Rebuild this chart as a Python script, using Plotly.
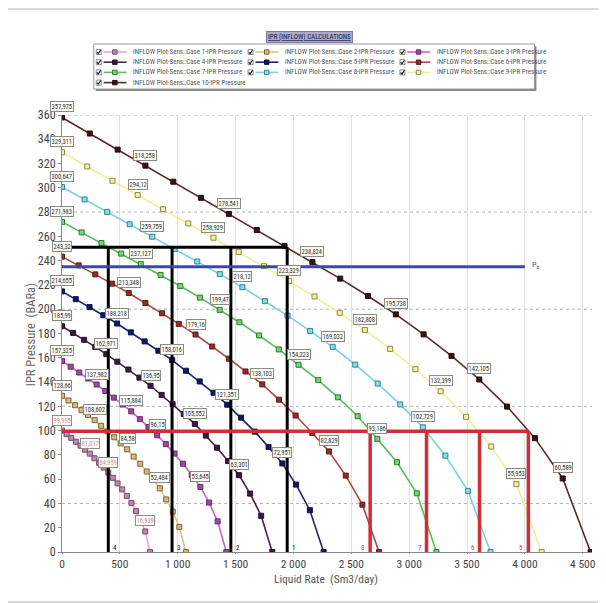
import plotly.graph_objects as go

# ---------------- data ----------------
case_names = [
    "INFLOW Plot-Sens::Case 1-IPR Pressure", "INFLOW Plot-Sens::Case 2-IPR Pressure",
    "INFLOW Plot-Sens::Case 3-IPR Pressure", "INFLOW Plot-Sens::Case 4-IPR Pressure",
    "INFLOW Plot-Sens::Case 5-IPR Pressure", "INFLOW Plot-Sens::Case 6-IPR Pressure",
    "INFLOW Plot-Sens::Case 7-IPR Pressure", "INFLOW Plot-Sens::Case 8-IPR Pressure",
    "INFLOW Plot-Sens::Case 9-IPR Pressure", "INFLOW Plot-Sens::Case 10-IPR Pressure",
]

c1_rate = [0, 40, 80, 120, 160, 200, 240, 280, 320, 360, 400, 440, 480, 520, 560, 600, 640, 680, 720, 760]
c1_pres = [99.995, 97.03, 93.99, 90.85, 87.62, 84.28, 81.02, 77.22, 73.48, 69.56, 65.45, 61.11, 56.50, 51.56, 46.20, 40.30, 33.65, 25.87, 16.94, 0]
c2_rate = [0, 56, 113, 169, 225, 282, 338, 394, 451, 507, 563, 619, 676, 732, 788, 845, 901, 957, 1014, 1070]
c2_pres = [128.66, 124.85, 120.93, 116.89, 112.74, 108.60, 103.98, 99.36, 94.54, 89.51, 84.58, 78.63, 72.70, 66.34, 59.44, 52.48, 43.30, 33.28, 20.63, 0]
c3_rate = [0, 75, 149, 224, 299, 374, 448, 523, 598, 673, 747, 822, 897, 972, 1046, 1121, 1196, 1271, 1345, 1420]
c3_pres = [157.325, 152.66, 147.87, 142.94, 137.98, 132.60, 127.15, 121.50, 115.88, 109.45, 102.98, 96.15, 88.89, 81.12, 72.69, 63.40, 53.65, 40.70, 25.22, 0]
c4_rate = [0, 96, 191, 287, 383, 478, 574, 669, 765, 861, 956, 1052, 1148, 1243, 1339, 1435, 1530, 1626, 1721, 1817]
c4_pres = [185.99, 180.48, 174.82, 168.98, 162.97, 156.76, 150.32, 143.64, 136.95, 129.39, 121.74, 113.67, 105.55, 95.90, 85.93, 74.95, 63.30, 48.11, 29.82, 0]
c5_rate = [0, 119, 238, 357, 476, 595, 714, 833, 952, 1071, 1190, 1309, 1428, 1547, 1666, 1785, 1904, 2023, 2142, 2261]
c5_pres = [214.655, 208.30, 201.76, 195.03, 188.22, 180.92, 173.49, 165.77, 158.02, 149.33, 140.51, 131.19, 121.35, 110.68, 99.17, 86.51, 72.95, 55.53, 34.42, 0]
c6_rate = [0, 144, 288, 433, 577, 721, 865, 1009, 1154, 1298, 1442, 1586, 1731, 1875, 2019, 2163, 2307, 2452, 2596, 2740]
c6_pres = [243.32, 236.11, 228.70, 221.07, 213.35, 205.08, 196.65, 187.91, 179.16, 169.27, 159.27, 148.71, 138.10, 125.46, 112.42, 98.06, 82.83, 62.94, 39.01, 0]
c7_rate = [0, 170, 341, 511, 681, 852, 1022, 1192, 1363, 1533, 1703, 1874, 2044, 2214, 2384, 2555, 2725, 2895, 3066, 3236]
c7_pres = [271.983, 263.27, 254.55, 245.84, 237.13, 228.27, 219.09, 209.56, 199.47, 189.27, 178.38, 166.89, 154.22, 141.61, 127.45, 111.88, 93.19, 73.95, 48.35, 0]
c8_rate = [0, 195, 390, 585, 780, 974, 1169, 1364, 1559, 1754, 1949, 2144, 2339, 2534, 2728, 2923, 3118, 3313, 3508, 3703]
c8_pres = [300.647, 290.43, 280.20, 269.98, 259.76, 249.54, 239.31, 228.89, 218.12, 206.67, 194.74, 182.13, 169.03, 154.36, 138.77, 121.58, 102.73, 79.37, 50.33, 0]
c9_rate = [0, 218, 436, 654, 873, 1091, 1309, 1527, 1745, 1963, 2182, 2400, 2618, 2836, 3054, 3272, 3491, 3709, 3927, 4145]
c9_pres = [329.311, 317.58, 305.85, 294.12, 282.39, 270.66, 258.93, 247.20, 235.48, 223.33, 210.50, 197.01, 182.81, 167.29, 150.60, 132.40, 111.32, 86.89, 55.95, 0]
c10_rate = [0, 240, 481, 721, 962, 1202, 1442, 1683, 1923, 2164, 2404, 2644, 2885, 3125, 3366, 3606, 3846, 4087, 4327, 4568]
c10_pres = [357.975, 344.74, 331.50, 318.26, 305.02, 291.78, 278.54, 265.30, 252.06, 238.82, 225.24, 210.90, 195.74, 179.28, 161.52, 142.11, 119.80, 93.77, 60.59, 0]

case_rates = [c1_rate, c2_rate, c3_rate, c4_rate, c5_rate, c6_rate, c7_rate, c8_rate, c9_rate, c10_rate]
case_pres = [c1_pres, c2_pres, c3_pres, c4_pres, c5_pres, c6_pres, c7_pres, c8_pres, c9_pres, c10_pres]

# value labels: case number, point index, text
label_case = [1, 1, 1, 1,
              2, 2, 2, 2,
              3, 3, 3, 3, 3,
              4, 4, 4, 4, 4,
              5, 5, 5, 5, 5,
              6, 6, 6, 6, 6,
              7, 7, 7, 7, 7,
              8, 8, 8, 8, 8,
              9, 9, 9, 9, 9, 9, 9,
              10, 10, 10, 10, 10, 10, 10]
label_index = [0, 6, 10, 18,
               0, 5, 10, 15,
               0, 4, 8, 11, 16,
               0, 4, 8, 12, 16,
               0, 4, 8, 12, 16,
               0, 4, 8, 12, 16,
               0, 4, 8, 12, 16,
               0, 4, 8, 12, 16,
               0, 3, 6, 9, 12, 15, 18,
               0, 3, 6, 9, 12, 15, 18]
label_text = ["99,995", "81,017", "64,959", "16,939",
              "128,66", "108,602", "84,58", "52,484",
              "157,325", "137,982", "115,884", "96,15", "53,645",
              "185,99", "162,971", "136,95", "105,552", "63,301",
              "214,655", "188,218", "158,016", "121,351", "72,951",
              "243,32", "213,348", "179,16", "138,103", "82,829",
              "271,983", "237,127", "199,47", "154,223", "93,186",
              "300,647", "259,759", "218,12", "169,032", "102,729",
              "329,311", "294,12", "258,929", "223,329", "182,808", "132,399", "55,953",
              "357,975", "318,258", "278,541", "238,824", "195,738", "142,105", "60,589"]

# operating-point construction lines
black_pwf = 251
black_rates = [400, 951, 1459, 1946]
black_ids = ["4", "3", "2", "1"]
red_pwf = 99.5
red_rates = [2663, 3150, 3608, 4030]
red_ids = ["8", "7", "6", "5"]
pb_pressure = 235
pb_rate_end = 4000

x_tick_vals = [0, 500, 1000, 1500, 2000, 2500, 3000, 3500, 4000, 4500]
x_tick_text = ["0", "500", "1 000", "1 500", "2 000", "2 500", "3 000", "3 500", "4 000", "4 500"]
y_tick_vals = [0, 20, 40, 60, 80, 100, 120, 140, 160, 180, 200, 220, 240, 260, 280, 300, 320, 340, 360]
y_dotted_grid = [40, 120, 200, 280, 360]

# ---------------- styles ----------------
line_colors = ["#e6a8cc", "#d9c58a", "#c865c8", "#4a2248", "#1f2276",
               "#b3473f", "#52c052", "#79d3e3", "#f1ef94", "#5c2a2a"]
marker_fill = ["#b98aab", "#d2bd80", "#9b4a9b", "#3a1a3a", "#14185e",
               "#8a2f2a", "#7bd07b", "#8fd8e6", "#f3f1a8", "#3a1414"]
marker_edge = ["#7a4a70", "#7d6330", "#6e2a6e", "#2a0f2a", "#0c0f45",
               "#5e1c18", "#2b7d2b", "#2c8796", "#8f8c3a", "#240a0a"]

FONT = "Liberation Sans Narrow, Roboto Condensed, Roboto, sans-serif"

# figure geometry (page has an 8px body margin)
W, H = 598, 595
ML, MR, MT, MB = 54, 10, 107, 51
PW, PH = W - ML - MR, H - MT - MB


def px(sx):  # screen x (reference pixels) -> paper x
    return (sx - 8 - ML) / PW


def py(sy):  # screen y (reference pixels) -> paper y
    return (H - MB - (sy - 8)) / PH


fig = go.Figure()

for i in range(10):
    fig.add_trace(go.Scatter(
        x=case_rates[i], y=case_pres[i], mode="lines+markers", name=case_names[i],
        line=dict(color=line_colors[i], width=1.6),
        marker=dict(symbol="square", size=5, color=marker_fill[i],
                    line=dict(color=marker_edge[i], width=1)),
        showlegend=False,
    ))

# black construction lines
bx, by = [0, max(black_rates)], [black_pwf, black_pwf]
for r in black_rates:
    bx += [None, r, r]
    by += [None, 0, black_pwf]
fig.add_trace(go.Scatter(x=bx, y=by, mode="lines", line=dict(color="#000000", width=3),
                         showlegend=False, hoverinfo="skip"))
# red construction lines
rx, ry = [0, max(red_rates)], [red_pwf, red_pwf]
for r in red_rates:
    rx += [None, r, r]
    ry += [None, 0, red_pwf]
fig.add_trace(go.Scatter(x=rx, y=ry, mode="lines", line=dict(color="#cf2f35", width=3.5),
                         showlegend=False, hoverinfo="skip"))
# bubble point line
fig.add_trace(go.Scatter(x=[0, pb_rate_end], y=[pb_pressure, pb_pressure], mode="lines",
                         line=dict(color="#3a48b0", width=3), showlegend=False, hoverinfo="skip"))

annotations = []
shapes = []

for c, k, t in zip(label_case, label_index, label_text):
    col = "#d9889a" if c == 1 else "#333333"
    annotations.append(dict(
        x=case_rates[c - 1][k], y=case_pres[c - 1][k], xref="x", yref="y", text=t,
        showarrow=False, yshift=10.5, font=dict(family=FONT, size=6.5, color=col),
        bgcolor="#fbfbf6", bordercolor="#8c8c84", borderwidth=1, borderpad=0.5,
    ))
for r, t in zip(black_rates, black_ids):
    annotations.append(dict(x=r, y=3, xref="x", yref="y", text=t, showarrow=False,
                            xanchor="left", xshift=3, font=dict(family=FONT, size=7, color="#111111")))
for r, t in zip(red_rates, red_ids):
    annotations.append(dict(x=r, y=3, xref="x", yref="y", text=t, showarrow=False,
                            xanchor="right", xshift=-3, font=dict(family=FONT, size=7, color="#d0404a")))
annotations.append(dict(x=pb_rate_end, y=pb_pressure, xref="x", yref="y", text="P<sub>b</sub>",
                        showarrow=False, xanchor="left", xshift=5, yshift=2,
                        font=dict(family=FONT, size=8, color="#4455bb")))

# ----- legend panel (drawn like the original application's legend) -----
shapes.append(dict(type="rect", xref="paper", yref="paper", x0=px(96), x1=px(540), y0=py(91), y1=py(46),
                   line=dict(width=0), fillcolor="#8a8a8a", layer="above"))
shapes.append(dict(type="rect", xref="paper", yref="paper", x0=px(94), x1=px(538), y0=py(89), y1=py(44),
                   line=dict(color="#9a9a9a", width=1), fillcolor="white", layer="above"))
row_y = [52, 62.2, 72.4, 82.6]
col_x = [99, 252, 405]
for i in range(10):
    cy = row_y[i // 3]
    cx = col_x[i % 3]
    # checkbox
    shapes.append(dict(type="rect", xref="paper", yref="paper", x0=px(cx - 2.5), x1=px(cx + 2.5),
                       y0=py(cy + 2.5), y1=py(cy - 2.5), line=dict(color="#707070", width=0.8),
                       fillcolor="white", layer="above"))
    shapes.append(dict(type="path", xref="paper", yref="paper",
                       path=f"M {px(cx - 1.8)} {py(cy)} L {px(cx - 0.5)} {py(cy + 1.6)} L {px(cx + 2)} {py(cy - 2)}",
                       line=dict(color="#111111", width=1.1), layer="above"))
    # symbol
    shapes.append(dict(type="line", xref="paper", yref="paper", x0=px(cx + 5), x1=px(cx + 28),
                       y0=py(cy), y1=py(cy), line=dict(color=line_colors[i], width=1.6), layer="above"))
    shapes.append(dict(type="rect", xref="paper", yref="paper", x0=px(cx + 14), x1=px(cx + 18.5),
                       y0=py(cy + 2.2), y1=py(cy - 2.2), line=dict(color=marker_edge[i], width=1),
                       fillcolor=marker_fill[i], layer="above"))
    annotations.append(dict(x=px(cx + 33), y=py(cy), xref="paper", yref="paper", text=case_names[i],
                            showarrow=False, xanchor="left", yanchor="middle",
                            font=dict(family=FONT, size=7, color="#555555")))

# chart title above the legend
annotations.append(dict(x=px(311), y=py(37), xref="paper", yref="paper", yanchor="middle",
                        text="<u>IPR (INFLOW) CALCULATIONS</u>",
                        showarrow=False, font=dict(family=FONT, size=7, color="#1e2050"),
                        bgcolor="#a9a9cc", bordercolor="#7c7ca6", borderwidth=1, borderpad=1))
# axis titles
annotations.append(dict(x=px(30), y=py(335), xref="paper", yref="paper", text="IPR Pressure\u00a0\u00a0(BARa)",
                        textangle=-90, xanchor="center", yanchor="middle", showarrow=False,
                        font=dict(family=FONT, size=12.5, color="#666666")))
annotations.append(dict(x=px(328), y=py(579), xref="paper", yref="paper", text="Liquid Rate\u00a0\u00a0(Sm3/day)",
                        xanchor="center", yanchor="middle", showarrow=False,
                        font=dict(family=FONT, size=11.5, color="#555555")))

for g in y_dotted_grid:
    shapes.append(dict(type="line", xref="x domain", yref="y", x0=0, x1=1, y0=g, y1=g,
                       line=dict(color="#b5b5b5", width=1, dash="dot"), layer="below"))
# outer frame of the chart panel
shapes.append(dict(type="line", xref="paper", yref="paper", x0=px(7), x1=px(7), y0=py(602), y1=py(9),
                   line=dict(color="#b0b0b0", width=1)))
shapes.append(dict(type="line", xref="paper", yref="paper", x0=px(7), x1=px(606), y0=py(9), y1=py(9),
                   line=dict(color="#b0b0b0", width=1)))
shapes.append(dict(type="line", xref="paper", yref="paper", x0=px(7), x1=px(606), y0=py(602), y1=py(602),
                   line=dict(color="#b0b0b0", width=1)))

fig.update_layout(
    width=W, height=H,
    margin=dict(l=ML, r=MR, t=MT, b=MB),
    paper_bgcolor="white", plot_bgcolor="white",
    font=dict(family=FONT, size=11, color="#444444"),
    showlegend=False,
    xaxis=dict(range=[0, 4580], tickvals=x_tick_vals, ticktext=x_tick_text,
               showgrid=True, gridcolor="#e2e2e2", gridwidth=1, zeroline=False,
               showline=True, linecolor="#8a8a8a", linewidth=1,
               ticks="outside", ticklen=1, tickcolor="#8a8a8a",
               tickfont=dict(family=FONT, size=11.5, color="#444444")),
    yaxis=dict(range=[0, 360], tickvals=y_tick_vals, showgrid=False, zeroline=False,
               showline=True, linecolor="#8a8a8a", linewidth=1,
               ticks="outside", ticklen=3, tickcolor="#8a8a8a",
               tickfont=dict(family=FONT, size=12, color="#444444")),
    annotations=annotations, shapes=shapes,
)

fig.write_html("out.html")
